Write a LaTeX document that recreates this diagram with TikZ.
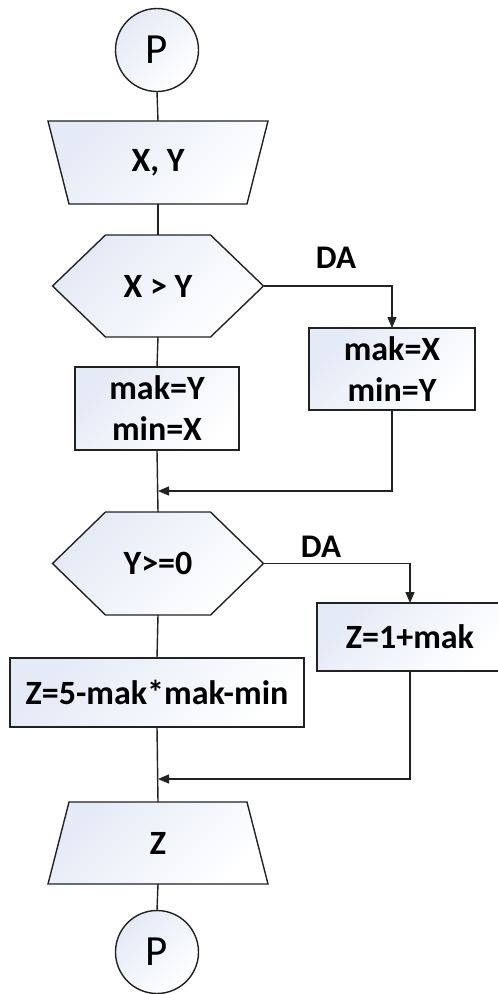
\documentclass[tikz,border=0pt]{standalone}
\usepackage{fontspec}
\setmainfont{Carlito}
\usetikzlibrary{arrows.meta,backgrounds,calc}
\definecolor{shadec}{RGB}{228,234,246}
\definecolor{linec}{RGB}{34,34,34}
\tikzset{
  shp/.style={draw=linec, line width=1.4pt, top color=shadec, bottom color=white, shading angle=45},
  txt/.style={font=\fontsize{34}{41}\selectfont\bfseries, align=center, inner sep=0pt, outer sep=0pt},
  boxnode/.style={rectangle, shp, txt},
  termnode/.style={circle, shp, font=\fontsize{43}{43}\selectfont, inner sep=0pt, outer sep=0pt, minimum size=83pt},
  conn/.style={draw=linec, line width=1.4pt},
  arr/.style={conn, -{Triangle[length=11pt,width=9pt]}},
  lbl/.style={font=\fontsize{33}{33}\selectfont\bfseries, inner sep=0pt}
}
\begin{document}
\begin{tikzpicture}[x=1pt,y=-1pt]
\useasboundingbox (0,0) rectangle (498,994);
\clip (0,0) rectangle (498,994);
% nodes
\node[termnode] (P1) at (157,50) {P};
\node[txt, minimum width=220pt, minimum height=83pt] (T1) at (158,162.5) {X, Y};
\node[txt, minimum width=211pt, minimum height=102pt] (H1) at (158,286) {X > Y};
\node[boxnode, minimum width=166pt, minimum height=82pt] (B1) at (392,369) {mak=X\\min=Y};
\node[boxnode, minimum width=164pt, minimum height=83pt] (B2) at (157,408.5) {mak=Y\\min=X};
\coordinate (M1) at (158,491);
\node[txt, minimum width=211pt, minimum height=103pt] (H2) at (158,563.5) {Y>=0};
\node[boxnode, minimum width=186pt, minimum height=68pt] (B3) at (410,637) {Z=1+mak};
\node[boxnode, minimum width=294pt, minimum height=69pt] (B4) at (157,692.5) {Z=5-mak*mak-min};
\coordinate (M2) at (158,779);
\node[txt, minimum width=220pt, minimum height=82pt] (T2) at (158,843) {Z};
\node[termnode] (P2) at (157,952) {P};
\node[lbl] (DA1) at (336,258) {DA};
\node[lbl] (DA2) at (321,547) {DA};
% shapes on background
\begin{scope}[on background layer]
\draw[shp] (T1.north west) -- (T1.north east) -- ([xshift=-21pt]T1.south east) -- ([xshift=21pt]T1.south west) -- cycle;
\draw[shp] (H1.west) -- ([xshift=53pt]H1.north west) -- ([xshift=-53pt]H1.north east) -- (H1.east) -- ([xshift=-53pt]H1.south east) -- ([xshift=53pt]H1.south west) -- cycle;
\draw[shp] (H2.west) -- ([xshift=53pt]H2.north west) -- ([xshift=-53pt]H2.north east) -- (H2.east) -- ([xshift=-53pt]H2.south east) -- ([xshift=53pt]H2.south west) -- cycle;
\draw[shp] ([xshift=21pt]T2.north west) -- ([xshift=-21pt]T2.north east) -- (T2.south east) -- (T2.south west) -- cycle;
\end{scope}
% connectors
\draw[conn] (P1.south) -- (T1.north);
\draw[conn] (T1.south) -- (H1.north);
\draw[conn] (H1.south) -- (B2.north);
\draw[conn] (B2.south) -- (H2.north);
\draw[arr] (H1.east) -| (B1.north);
\draw[arr] (B1.south) |- (M1);
\draw[conn] (H2.south) -- (B4.north);
\draw[arr] (H2.east) -| (B3.north);
\draw[conn] (B4.south) -- (T2.north);
\draw[arr] (B3.south) |- (M2);
\draw[conn] (T2.south) -- (P2.north);
\end{tikzpicture}
\end{document}
